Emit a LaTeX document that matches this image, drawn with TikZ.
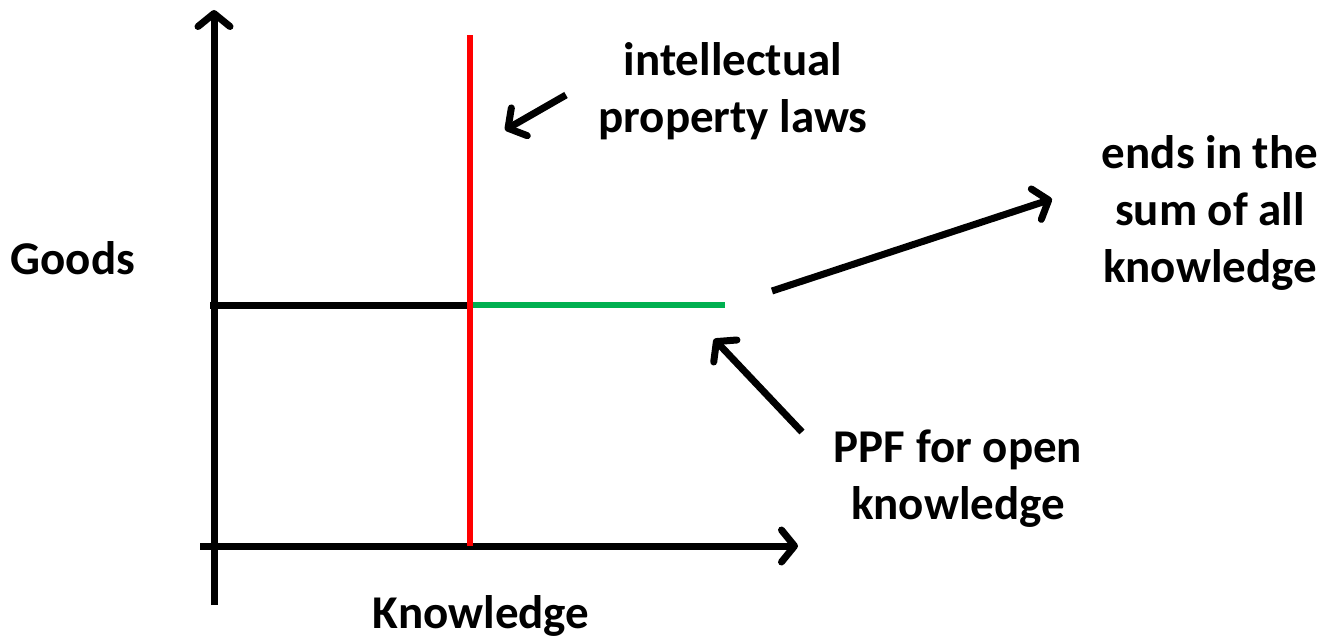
\documentclass[tikz,border=0pt]{standalone}
\usepackage{fontspec}
\setmainfont{Carlito}
\usetikzlibrary{arrows.meta}
\tikzset{
  axis/.style={line width=7pt, -{Straight Barb[round,length=13pt,width=32pt]}},
  pointer/.style={line width=7pt, -{Straight Barb[round,length=13pt,width=32pt]}},
  lbl/.style={align=center, font=\fontsize{47}{57}\selectfont\bfseries, inner sep=0pt},
}
\begin{document}
\begin{tikzpicture}[x=1pt,y=-1pt]
\useasboundingbox (0,0) rectangle (1328,638);
% axes
\coordinate (yb) at (214,605);
\coordinate (yt) at (214,10);
\coordinate (xl) at (200,546);
\coordinate (xr) at (798,546);
\draw[axis] (yb) -- (yt);
\draw[axis] (xl) -- (xr);
% lines
\coordinate (hl) at (210,305);
\coordinate (hm) at (470,305);
\coordinate (hr) at (725,305);
\coordinate (rt) at (470,35);
\coordinate (rb) at (470,546);
\draw[line width=7pt] (hl) -- (hm);
\draw[line width=6pt, red] (rt) -- (rb);
\draw[line width=6pt, green!60!black, color={rgb,255:red,0;green,176;blue,80}] (473,305) -- (hr);
% labels
\node[lbl] (goods) at (73,258) {Goods};
\node[lbl] (know) at (481,616) {Knowledge};
\node[lbl] (ip) at (733,91) {intellectual\\property laws};
\node[lbl] (ends) at (1210,213) {ends in the\\sum of all\\knowledge};
\node[lbl] (ppf) at (958,479) {PPF for open\\knowledge};
% pointers
\coordinate (a1s) at (566,95);
\coordinate (a1e) at (505,130);
\draw[pointer] (a1s) -- (a1e);
\coordinate (a2s) at (802,432);
\coordinate (a2e) at (714,339);
\draw[pointer] (a2s) -- (a2e);
\coordinate (a3s) at (772,291);
\coordinate (a3e) at (1052,199);
\draw[pointer] (a3s) -- (a3e);
\end{tikzpicture}
\end{document}
